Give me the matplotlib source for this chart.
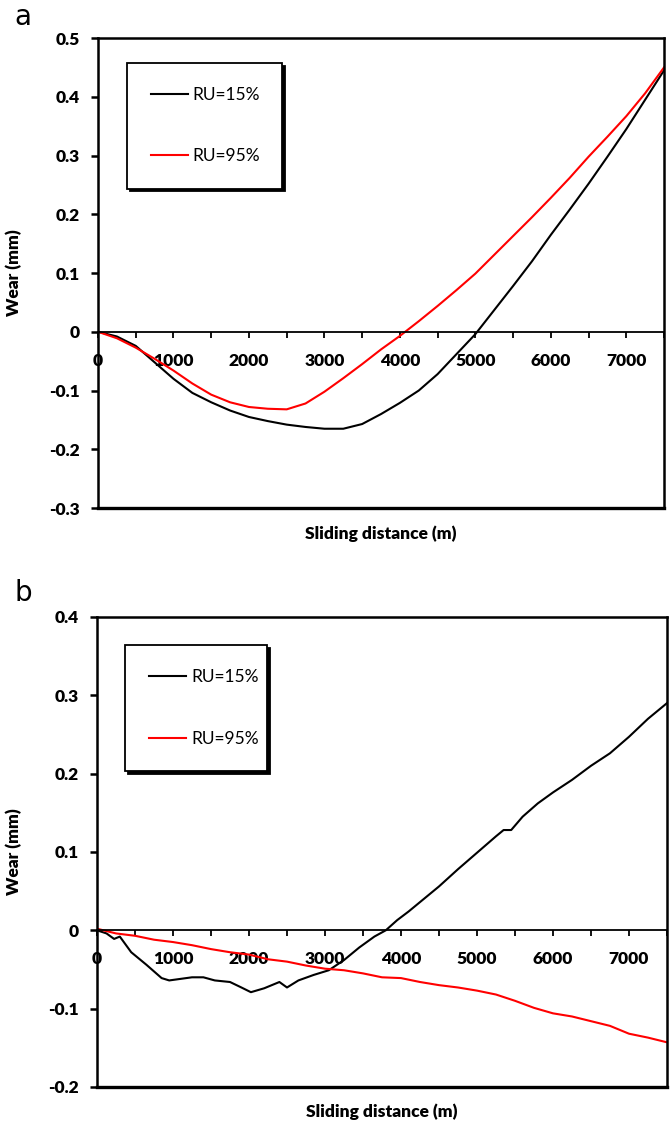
# plot.py
# Wear vs sliding distance for two relative humidities (panels a and b)

import matplotlib.pyplot as plt
from matplotlib.ticker import MultipleLocator, FuncFormatter


# Panel a, read every 250 m
dist_a = list(range(0, 7501, 250))
wear_a_15 = [0, -0.008, -0.024, -0.052, -0.080, -0.104, -0.120, -0.134, -0.145, -0.152,
	-0.158, -0.162, -0.165, -0.165, -0.157, -0.140, -0.121, -0.100, -0.072, -0.038,
	-0.004, 0.037, 0.078, 0.120, 0.165, 0.208, 0.252, 0.298, 0.345, 0.395, 0.445]
wear_a_95 = [0, -0.011, -0.027, -0.046, -0.066, -0.088, -0.107, -0.120, -0.128, -0.131,
	-0.132, -0.122, -0.102, -0.079, -0.055, -0.030, -0.007, 0.018, 0.044, 0.071,
	0.099, 0.131, 0.163, 0.195, 0.228, 0.262, 0.298, 0.332, 0.367, 0.406, 0.450]

# Panel b
dist_b_15 = [0, 125, 225, 300, 450, 650, 850, 950, 1100, 1250, 1400, 1550, 1750, 1900,
	2025, 2200, 2400, 2500, 2650, 2850, 3050, 3250, 3450, 3650, 3800, 3950, 4100, 4250, 4500,
	4750, 5000, 5250, 5350, 5450, 5600, 5800, 6000, 6250, 6500, 6750, 7000, 7250, 7500]
wear_b_15 = [0, -0.004, -0.011, -0.008, -0.028, -0.044, -0.061, -0.064, -0.062, -0.060,
	-0.060, -0.064, -0.066, -0.073, -0.079, -0.074, -0.066, -0.073, -0.064, -0.057,
	-0.051, -0.038, -0.022, -0.008, 0.0, 0.013, 0.024, 0.036, 0.056, 0.078, 0.099, 0.120,
	0.128, 0.128, 0.145, 0.162, 0.176, 0.192, 0.210, 0.226, 0.247, 0.270, 0.290]
dist_b_95 = list(range(0, 7501, 250))
wear_b_95 = [0.002, -0.004, -0.007, -0.012, -0.015, -0.019, -0.024, -0.028, -0.031, -0.037,
	-0.040, -0.045, -0.049, -0.051, -0.055, -0.060, -0.061, -0.066, -0.070, -0.073,
	-0.077, -0.082, -0.090, -0.099, -0.106, -0.110, -0.116, -0.122, -0.132, -0.137, -0.143]

labels = ['RU=15%', 'RU=95%']
FONT = 'Lato'


def fmt_tick(v, pos):
	if abs(v) < 1e-9:
		return '0'
	return f'{v:g}'


# Draw one panel: box, x axis crossing at y=0, legend with a black shadow.
def draw_panel(ax, x15, y15, x95, y95, ylim, leg_anchor, xlab_y, ylab_x):
	ax.plot(x15, y15, color='black', lw=1.5, label=labels[0])
	ax.plot(x95, y95, color='#ff0000', lw=1.5, label=labels[1])
	ax.set_xlim(0, 7500)
	ax.set_ylim(*ylim)

	for side in ['left', 'right', 'top', 'bottom']:
		ax.spines[side].set_linewidth(1.8)
	ax.spines['bottom'].set_position(('data', 0))
	ax.spines['bottom'].set_linewidth(1.3)
	# bottom edge of the box, since the bottom spine now sits at y=0
	ax.plot([0, 1], [0, 0], transform=ax.transAxes, color='black', lw=2.4, clip_on=False)

	ax.xaxis.set_major_locator(MultipleLocator(1000))
	ax.xaxis.set_minor_locator(MultipleLocator(500))
	ax.yaxis.set_major_locator(MultipleLocator(0.1))
	ax.yaxis.set_major_formatter(FuncFormatter(fmt_tick))
	ax.tick_params(axis='x', which='both', direction='out', length=4, width=1.3, pad=11)
	ax.tick_params(axis='y', direction='out', length=5, width=1.8, pad=8)
	ax.tick_params(right=False, top=False)
	for t in ax.get_xticklabels() + ax.get_yticklabels():
		t.set_fontfamily(FONT)
		t.set_fontweight('heavy')
		t.set_fontsize(12.5)

	ax.set_xlabel('Sliding distance (m)', fontfamily=FONT, fontweight='heavy', fontsize=12.5)
	ax.set_ylabel('Wear (mm)', fontfamily=FONT, fontweight='heavy', fontsize=12.5)
	ax.xaxis.set_label_coords(0.5, xlab_y)
	ax.yaxis.set_label_coords(ylab_x, 0.5)

	leg = ax.legend(loc='upper left', bbox_to_anchor=leg_anchor, mode='expand',
		prop={'family': FONT, 'size': 12.5}, frameon=True, fancybox=False,
		shadow={'color': 'black', 'alpha': 1}, borderpad=1.4, labelspacing=2.6,
		handlelength=2.1, handletextpad=0.3, borderaxespad=0)
	leg.get_frame().set_edgecolor('black')
	leg.get_frame().set_linewidth(1.3)


def main():
	fig = plt.figure(figsize=(6.7, 11.25), dpi=100)
	plt.rcParams['axes.unicode_minus'] = False

	ax_a = fig.add_axes([0.1463, 0.5484, 0.8448, 0.4178])
	draw_panel(ax_a, dist_a, wear_a_15, dist_a, wear_a_95, (-0.3, 0.5),
		(0.051, 0.5, 0.274, 0.447), -0.038, -0.134)

	ax_b = fig.add_axes([0.1448, 0.0338, 0.8507, 0.4178])
	draw_panel(ax_b, dist_b_15, wear_b_15, dist_b_95, wear_b_95, (-0.2, 0.4),
		(0.049, 0.5, 0.249, 0.44), -0.036, -0.132)

	fig.text(0.022, 0.985, 'a', fontsize=20, fontfamily='DejaVu Sans', va='center')
	fig.text(0.022, 0.473, 'b', fontsize=20, fontfamily='DejaVu Sans', va='center')

	fig.savefig('out.png', dpi=100)


if __name__ == "__main__":
	main()
